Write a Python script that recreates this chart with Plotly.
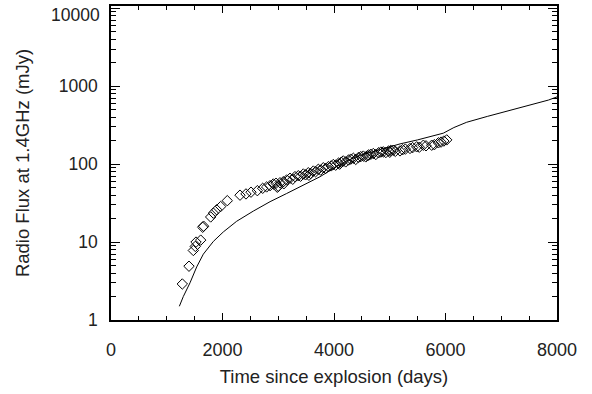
import plotly.graph_objects as go
import numpy as np

# Observed radio flux (diamonds)
obs_days = [1279, 1399, 1477, 1512, 1525, 1609, 1645, 1660, 1788, 1836, 1896, 1967, 2086,
            2314, 2421, 2511, 2625, 2721, 2792, 2853, 2911, 2960, 2983, 3000, 3031, 3091,
            3100, 3150, 3211, 3260, 3300, 3360, 3400, 3450, 3490, 3539, 3550, 3580, 3629,
            3670, 3719, 3760, 3808, 3850, 3900, 3950, 3988, 4030, 4080, 4100, 4130, 4167,
            4210, 4260, 4300, 4347, 4390, 4440, 4480, 4526, 4570, 4600, 4620, 4660, 4705,
            4750, 4800, 4840, 4885, 4930, 4980, 5000, 5020, 5064, 5100, 5184, 5230, 5280,
            5363, 5410, 5483, 5530, 5603, 5650, 5753, 5800, 5873, 5920, 5970, 6022]
obs_flux = [2.9, 4.9, 7.8, 8.8, 10.0, 10.6, 15.5, 16.0, 21, 23.5, 26, 28.6, 34,
            40, 41.5, 43.7, 45.7, 49, 51, 53, 55.7, 56.9, 50.5, 52, 57.8, 59.6,
            56, 62.7, 65.9, 64, 69.2, 71.1, 70, 74.8, 73, 77.7, 72, 76, 81.6,
            80, 85.9, 84, 90, 88, 93, 95, 99, 97, 103, 100, 106, 110,
            107, 113, 116, 119, 115, 122, 125, 127, 124, 128, 131, 134, 137,
            133, 140, 143, 144, 141, 148, 142, 150, 151, 146, 148, 153, 156,
            159, 163, 167, 165, 175, 172, 175, 178, 188, 192, 198, 205]

# Model curve (solid line)
model_days = [1226, 1297, 1417, 1537, 1656, 1836, 2015, 2254, 2553, 2853, 3150, 3450,
              3749, 3988, 4250, 4500, 4825, 5184, 5500, 5800, 5961, 6150, 6380, 6750,
              7130, 7500, 7847, 8000]
model_flux = [1.5, 2.0, 3.0, 4.8, 7.0, 10.2, 13.5, 18.5, 25, 33, 42, 54,
              69, 88, 112, 132, 155, 182, 205, 232, 250, 295, 345, 410,
              485, 565, 665, 730]

x_ticks = [0, 2000, 4000, 6000, 8000]
y_ticks = [1, 10, 100, 1000, 10000]

family = "Liberation Sans, Arial, Helvetica, sans-serif"
color = "#222222"
title_font = dict(family=family, size=18.5, color=color)
ytick_font = dict(family=family, size=17.5, color=color)

fig = go.Figure()
fig.add_trace(go.Scatter(x=model_days, y=model_flux, mode="lines",
                         line=dict(color="black", width=1), showlegend=False))
fig.add_trace(go.Scatter(x=obs_days, y=obs_flux, mode="markers",
                         marker=dict(symbol="diamond-open", size=8,
                                     color="black", line=dict(width=1, color="black")),
                         showlegend=False))

minor_y = [m * 10 ** d for d in range(0, 4) for m in range(2, 10)]

# top tick label drawn slightly lower (as in the reference) so it stays inside the page
y_ticktext = [str(v) for v in y_ticks[:-1]] + [""]
fig.add_annotation(x=0, xref="paper", y=np.log10(y_ticks[-1]), yref="y",
                   text=str(y_ticks[-1]), showarrow=False, xanchor="right",
                   yanchor="middle", xshift=-9, yshift=-7, font=ytick_font)

fig.update_layout(
    width=592, height=394,
    margin=dict(l=111, r=35, t=6, b=74),
    paper_bgcolor="white", plot_bgcolor="white",
    font=dict(family=family, size=17, color=color),
    xaxis=dict(
        range=[0, 8000], tickvals=x_ticks, ticktext=[str(v) for v in x_ticks],
        tickfont=dict(family=family, size=18, color=color),
        ticks="inside", ticklen=7, tickwidth=1, tickcolor="black",
        showline=True, linecolor="black", linewidth=1.5, mirror="allticks",
        showgrid=False, zeroline=False, automargin=False, ticklabeloverflow="allow",
        minor=dict(dtick=500, ticks="inside", ticklen=4, tickcolor="black", showgrid=False),
        ticklabelstandoff=13,
        title=dict(text="Time since explosion (days)", font=title_font, standoff=11),
    ),
    yaxis=dict(
        type="log", range=[0, 4.03], tickvals=y_ticks, ticktext=y_ticktext,
        tickfont=ytick_font,
        ticks="inside", ticklen=9, tickwidth=1, tickcolor="black",
        showline=True, linecolor="black", linewidth=1.5, mirror="allticks",
        showgrid=False, zeroline=False, automargin=False, ticklabeloverflow="allow",
        minor=dict(tickvals=minor_y, ticks="inside", ticklen=5, tickcolor="black", showgrid=False),
        ticklabelstandoff=8,
        title=dict(text="Radio Flux at 1.4GHz (mJy)", font=title_font, standoff=24),
    ),
)

fig.write_html("out.html", config={"displayModeBar": False},
               post_script="document.body.style.margin='0px';")
